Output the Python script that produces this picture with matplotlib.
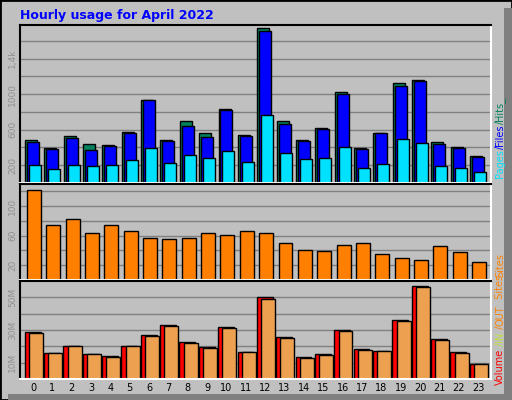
import numpy as np
import matplotlib.pyplot as plt
from matplotlib.patches import Rectangle

hours = list(range(24))
hits = [486, 394, 528, 436, 425, 573, 939, 486, 703, 566, 829, 539,
        1743, 703, 482, 619, 1023, 394, 562, 1126, 1156, 459, 402, 299]
files = [459, 383, 509, 371, 417, 566, 939, 474, 642, 520, 817, 531,
         1709, 665, 471, 608, 1008, 383, 562, 1088, 1145, 436, 391, 288]
pages = [208, 154, 208, 189, 200, 257, 394, 223, 314, 280, 360, 234,
         768, 333, 269, 280, 402, 166, 219, 497, 448, 196, 166, 128]
sites = [122, 74, 82, 64, 74, 67, 57, 56, 57, 63, 61, 66,
         64, 50, 41, 39, 48, 50, 35, 30, 27, 46, 38, 24]
vol_in = [28.6, 16.0, 20.4, 15.4, 14.1, 20.4, 26.7, 33.1, 22.9, 19.8, 31.8, 16.6,
          50.1, 25.5, 13.5, 15.4, 29.9, 18.5, 17.3, 36.2, 57.1, 24.2, 16.6, 9.1]
vol_out = [28.0, 16.0, 20.4, 15.4, 13.5, 20.4, 26.1, 32.4, 22.3, 19.2, 31.2, 16.6,
           49.1, 24.8, 12.8, 14.7, 29.3, 17.9, 17.3, 35.6, 56.4, 23.6, 16.0, 9.1]

W, H = 512, 400
BG = '#c0c0c0'
GRID = '#808080'
TICK = '#909090'

fig = plt.figure(figsize=(W / 100, H / 100), dpi=100, facecolor=BG)

# outer frame with shadow
fig.patches.append(Rectangle((0, 0), 1, 1, transform=fig.transFigure,
                             fill=False, edgecolor='black', lw=2))
fig.patches.append(Rectangle((1 - 8 / W, 0), 8 / W, 1 - 8 / H, transform=fig.transFigure,
                             facecolor='#808080', edgecolor='none'))
fig.patches.append(Rectangle((8 / W, 0), 1 - 8 / W, 6 / H, transform=fig.transFigure,
                             facecolor='#808080', edgecolor='none'))

fig.text(20 / W, 1 - 15 / H, 'Hourly usage for April 2022', color='#0000ff',
         fontsize=9, fontweight='bold', va='center', ha='left')

x = np.array(hours)


def make_ax(top, bottom):
    ax = fig.add_axes([20 / W, 1 - bottom / H, (491 - 20) / W, (bottom - top) / H])
    ax.set_facecolor(BG)
    ax.set_xlim(-0.67, 23.67)
    for s in ['top', 'left']:
        ax.spines[s].set_color('black')
    for s in ['bottom', 'right']:
        ax.spines[s].set_color('white')
    for s in ax.spines.values():
        s.set_linewidth(1.5)
    ax.tick_params(length=0, labelsize=6.5, colors=TICK, pad=2)
    ax.set_axisbelow(True)
    ax.yaxis.grid(True, color=GRID, lw=1)
    return ax


# top panel: hits / files / pages
ax1 = make_ax(25, 183)
ax1.set_ylim(0, 1780)
ax1.set_yticks(range(200, 1800, 200))
ax1.set_yticklabels(['200', '', '600', '', '1000', '', '1,4k', ''], rotation=90, va='center')
ax1.bar(x - 0.1, hits, 0.62, color='#00805c', edgecolor='black', lw=1)
ax1.bar(x, files, 0.62, color='#0000ff', edgecolor='black', lw=1)
ax1.bar(x + 0.1, pages, 0.62, color='#00e0ff', edgecolor='black', lw=1)
ax1.set_xticks([])

# sites panel
ax2 = make_ax(184, 280)
ax2.set_ylim(0, 130)
ax2.set_yticks(range(20, 130, 20))
ax2.set_yticklabels(['20', '', '60', '', '100', ''], rotation=90, va='center')
ax2.bar(x + 0.05, sites, 0.72, color='#ff8000', edgecolor='black', lw=1)
ax2.set_xticks([])

# volume panel
ax3 = make_ax(281, 379)
ax3.set_ylim(0, 60)
ax3.set_yticks(range(10, 60, 10))
ax3.set_yticklabels(['10M', '', '30M', '', '50M'], rotation=90, va='center')
ax3.bar(x - 0.02, vol_in, 0.82, color='#ff0000', edgecolor='black', lw=1)
ax3.bar(x + 0.15, vol_out, 0.72, color='#eda050', edgecolor='black', lw=1)
ax3.set_xticks(x)
ax3.set_xticklabels([str(h) for h in hours], color='black', fontsize=7)
ax3.tick_params(axis='x', pad=3)

# right side legends (rotated, multi-coloured), stacked by measured size
renderer = fig.canvas.get_renderer()


def side(parts, y0):
    y = y0
    for txt, col in parts:
        t = fig.text(500 / W, 1 - y / H, txt, color=col, fontsize=7, rotation=90,
                     ha='center', va='bottom')
        y -= t.get_window_extent(renderer).height


side([('Pages', '#00e0ff'), ('/', '#0000ff'), ('Files', '#0000ff'),
      ('/', '#00805c'), ('Hits_', '#00805c')], 178)
side([('Sites', '#ff8000')], 277)
side([('Volume', '#ff0000'), (' /', '#c0e040'), ('IN', '#c0e040'), (' /', '#ff8000'),
      ('OUT', '#ff8000'), ('  Sites', '#ff8000')], 385)

fig.savefig('out.png', dpi=100, facecolor=BG)
